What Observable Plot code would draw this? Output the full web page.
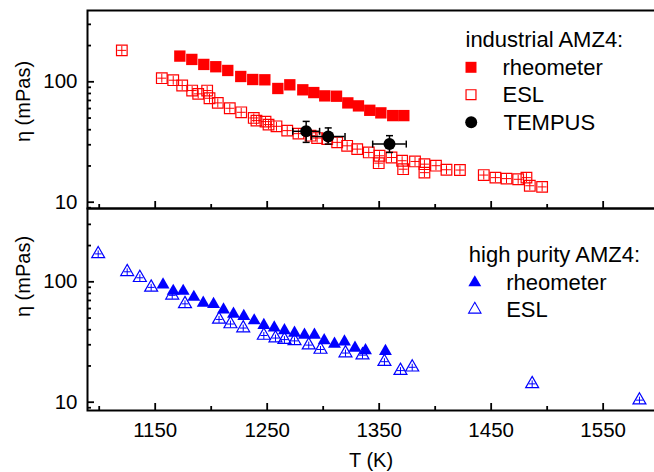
<!DOCTYPE html>
<html>
<head>
<meta charset="utf-8">
<script src="https://cdn.jsdelivr.net/npm/d3@7"></script>
<script src="https://cdn.jsdelivr.net/npm/@observablehq/plot@0.6"></script>
<style>
html, body { margin: 0; padding: 0; background: #fff; overflow: hidden; width: 654px; height: 472px; }
#chart { position: relative; width: 654px; height: 472px; overflow: hidden; }
#chart svg { position: absolute; left: 0; top: 0; }
</style>
</head>
<body>
<div id="chart"></div>
<script>
// ---------- data ----------
// industrial AMZ4, rheometer
const indRheoT   = [1172, 1182.7, 1193.4, 1204.1, 1214.8, 1226.4, 1237.1, 1247.9, 1259.5, 1270.2, 1281.8, 1291.6, 1301.4, 1311.9, 1322, 1331.5, 1341.6, 1351.5, 1362.1, 1372];
const indRheoEta = [163.5, 153.4, 139.4, 133.4, 124.2, 110.7, 104.5, 103.9, 88, 94.4, 85.8, 81.4, 76.4, 75.9, 66.8, 63.1, 58, 55.2, 52.4, 52.4];
// industrial AMZ4, ESL
const indEslT   = [1120.2, 1155.9, 1166.1, 1174.1, 1183, 1188.4, 1196.4, 1198.5, 1205.9, 1216.6, 1226.8, 1238, 1240.4, 1248.5, 1251.2, 1258.3, 1267.9, 1277.9, 1288.7, 1294.6, 1303.6, 1312.5, 1321.4, 1330.4, 1340.7, 1350.3, 1349.6, 1361, 1370.5, 1371.4, 1382, 1390.4, 1390.4, 1400.7, 1410.1, 1422.1, 1443.4, 1453.8, 1463.7, 1474.1, 1481.5, 1484.5, 1495.5];
const indEslEta = [182.4, 107.2, 103.1, 93.1, 84.6, 79.4, 84.6, 73, 66.8, 60.3, 55.8, 50.1, 47.6, 46.7, 44.1, 42.7, 39.3, 37.1, 35.7, 34.1, 33.5, 31.4, 29.4, 27.6, 25.9, 24.3, 21.1, 23.5, 22.1, 18.8, 21.8, 20.7, 17.6, 20.1, 18.6, 18.5, 16.8, 16, 15.7, 15.5, 16, 13.7, 13.4];
// industrial AMZ4, TEMPUS (with error bars)
const tempusT      = [1284.8, 1304.5, 1359.2];
const tempusEta    = [38.8, 35.2, 30.4];
const tempusTErr   = [12, 15, 15];
const tempusEtaLo  = [31.4, 30.4, 25.9];
const tempusEtaHi  = [46.9, 41.4, 35.7];
// high purity AMZ4, rheometer
const hpRheoT   = [1157, 1166.1, 1175, 1184.5, 1192.9, 1202.1, 1211, 1219.9, 1229.1, 1238.4, 1247, 1256.3, 1265.4, 1274.4, 1283.3, 1292.2, 1300.9, 1310.1, 1319, 1328.4, 1337.8, 1355.6];
const hpRheoEta = [94.4, 83.7, 83.7, 74.6, 66.8, 65.2, 58.7, 54.1, 51.8, 47.6, 43.6, 41.6, 39.4, 37.6, 36.1, 36.1, 32.5, 30.4, 31.8, 28.2, 26.9, 26.5];
// high purity AMZ4, ESL
const hpEslT   = [1099.1, 1125, 1136.3, 1146.4, 1165.2, 1176.6, 1207, 1217.2, 1228.6, 1247, 1257.4, 1265.4, 1274.4, 1287.1, 1297.6, 1319.9, 1335.1, 1354.7, 1369, 1379.5, 1486.6, 1582.4];
const hpEslEta = [170.5, 121.1, 108, 89.9, 77.2, 65.6, 48.7, 44.6, 41.3, 35.8, 34.1, 33.1, 32.3, 29.8, 27.4, 25.6, 24.6, 21.7, 18.3, 19.5, 14.2, 10.4];
// ticks
const xMajorTicks = [1150, 1250, 1350, 1450, 1550];
const xMinorTicks = [1100, 1200, 1300, 1400, 1500];
const yMajorTicks = [10, 100];
const yMinorTicksTop = [9, 20, 30, 40, 50, 60, 70, 80, 90, 200, 300];
const yMinorTicksBottom = [9, 20, 30, 40, 50, 60, 70, 80, 90, 200, 300];
// texts
const yTitle = "η (mPas)";
const xTitle = "T (K)";
const legendTop = ["industrial AMZ4:", "rheometer", "ESL", "TEMPUS"];
const legendBottom = ["high purity AMZ4:", "rheometer", "ESL"];

// ---------- tables ----------
const pairs = (T, E) => T.map((t, i) => ({T: t, eta: E[i]}));
const indRheo = pairs(indRheoT, indRheoEta);
const indEsl = pairs(indEslT, indEslEta);
const hpRheo = pairs(hpRheoT, hpRheoEta);
const hpEsl = pairs(hpEslT, hpEslEta);
const tempus = tempusT.map((t, i) => ({T: t, eta: tempusEta[i], dT: tempusTErr[i], lo: tempusEtaLo[i], hi: tempusEtaHi[i]}));
const tempusCapsX = tempus.flatMap(d => [{T: d.T - d.dT, eta: d.eta}, {T: d.T + d.dT, eta: d.eta}]);
const tempusCapsY = tempus.flatMap(d => [{T: d.T, eta: d.lo}, {T: d.T, eta: d.hi}]);

// ---------- symbols ----------
const plusSym = {draw(ctx, size) { const r = Math.sqrt(size / Math.PI); ctx.moveTo(-r, 0); ctx.lineTo(r, 0); ctx.moveTo(0, -r); ctx.lineTo(0, r); }};
const capV = {draw(ctx, size) { const r = Math.sqrt(size / Math.PI); ctx.moveTo(0, -r); ctx.lineTo(0, r); }};
const capH = {draw(ctx, size) { const r = Math.sqrt(size / Math.PI); ctx.moveTo(-r, 0); ctx.lineTo(r, 0); }};

// ---------- layout ----------
const W = 662, H = 472, ML = 87, MR = 2;
const plotW = W - ML - MR;
const xDomain = [1089.55, 1601.2];
const red = "#ff0000", blue = "#0000ff";
const font = "'Liberation Sans', Arial, Helvetica, sans-serif";
const baseStyle = {fontFamily: font, fontSize: "20px", background: "transparent", color: "black", maxWidth: "none", overflow: "visible"};
const tickStyle = {stroke: "black", strokeWidth: 1.8};

function axesMarks(plotH, yMinor, withXLabels) {
  const m = [
    Plot.tickY(yMinor, {insetRight: plotW - 4, ...tickStyle}),
    Plot.tickY(yMajorTicks, {insetRight: plotW - 7, ...tickStyle}),
    Plot.tickX(xMinorTicks, {insetTop: plotH - 4, ...tickStyle}),
    Plot.tickX(xMajorTicks, {insetTop: plotH - 7, ...tickStyle}),
    Plot.axisY(yMajorTicks, {tickSize: 0, tickPadding: 10, tickFormat: d => String(d), fontSize: 20.5, label: null})
  ];
  if (withXLabels) m.push(Plot.axisX(xMajorTicks, {tickSize: 0, tickPadding: 12, tickFormat: d => String(d), fontSize: 20.5, label: null}));
  return m;
}

const topMT = 10, topMB = 264;
const topPlot = Plot.plot({
  width: W, height: H, marginLeft: ML, marginRight: MR, marginTop: topMT, marginBottom: topMB,
  style: baseStyle,
  x: {domain: xDomain, axis: null},
  y: {type: "log", domain: [8.866, 391]},
  marks: [
    ...axesMarks(H - topMT - topMB, yMinorTicksTop, false),
    Plot.dot(indEsl, {x: "T", y: "eta", symbol: "square", r: 6, stroke: red, fill: "none", strokeWidth: 1.2}),
    Plot.dot(indEsl, {x: "T", y: "eta", symbol: plusSym, r: 4.5, stroke: red, fill: "none", strokeWidth: 1}),
    Plot.dot(indRheo, {x: "T", y: "eta", symbol: "square", r: 6.4, fill: red, stroke: "none"}),
    Plot.ruleY(tempus, {y: "eta", x1: d => d.T - d.dT, x2: d => d.T + d.dT, stroke: "black", strokeWidth: 1.5}),
    Plot.ruleX(tempus, {x: "T", y1: "lo", y2: "hi", stroke: "black", strokeWidth: 1.5}),
    Plot.dot(tempusCapsX, {x: "T", y: "eta", symbol: capV, r: 3.5, stroke: "black", fill: "none", strokeWidth: 1.5}),
    Plot.dot(tempusCapsY, {x: "T", y: "eta", symbol: capH, r: 3.5, stroke: "black", fill: "none", strokeWidth: 1.5}),
    Plot.dot(tempus, {x: "T", y: "eta", r: 6, fill: "black", stroke: "none"}),
    Plot.frame({stroke: "black", strokeWidth: 2}),
    // y title
    Plot.text([yTitle], {frameAnchor: "top-left", dx: 29.5 - ML, dy: 101 - topMT, rotate: -90, textAnchor: "middle", lineAnchor: "bottom", fontSize: 20}),
    // legend
    Plot.text([legendTop[0]], {frameAnchor: "top-left", dx: 378, dy: 36, textAnchor: "start", lineAnchor: "bottom", fontSize: 22}),
    Plot.dot([0], {frameAnchor: "top-left", dx: 383.5, dy: 56.8, symbol: "square", r: 6.2, fill: red, stroke: "none"}),
    Plot.text([legendTop[1]], {frameAnchor: "top-left", dx: 415, dy: 64, textAnchor: "start", lineAnchor: "bottom", fontSize: 22}),
    Plot.dot([0], {frameAnchor: "top-left", dx: 383.5, dy: 84.2, symbol: "square", r: 5.6, fill: "none", stroke: red, strokeWidth: 1.2}),
    Plot.text([legendTop[2]], {frameAnchor: "top-left", dx: 415, dy: 91.5, textAnchor: "start", lineAnchor: "bottom", fontSize: 22}),
    Plot.dot([0], {frameAnchor: "top-left", dx: 383.7, dy: 111.7, r: 6, fill: "black", stroke: "none"}),
    Plot.text([legendTop[3]], {frameAnchor: "top-left", dx: 416, dy: 119, textAnchor: "start", lineAnchor: "bottom", fontSize: 22})
  ]
});

const botMT = 208, botMB = 62;
const bottomPlot = Plot.plot({
  width: W, height: H, marginLeft: ML, marginRight: MR, marginTop: botMT, marginBottom: botMB,
  style: baseStyle,
  x: {domain: xDomain},
  y: {type: "log", domain: [8.533, 406.3]},
  marks: [
    ...axesMarks(H - botMT - botMB, yMinorTicksBottom, true),
    Plot.dot(hpEsl, {x: "T", y: "eta", symbol: "triangle", r: 4.8, stroke: blue, fill: "none", strokeWidth: 1.2}),
    Plot.dot(hpEsl, {x: "T", y: "eta", symbol: plusSym, r: 3.5, stroke: blue, fill: "none", strokeWidth: 1}),
    Plot.dot(hpRheo, {x: "T", y: "eta", symbol: "triangle", r: 4.8, fill: blue, stroke: "none"}),
    Plot.frame({stroke: "black", strokeWidth: 2}),
    Plot.text([yTitle], {frameAnchor: "top-left", dx: 29.5 - ML, dy: 276 - botMT, rotate: -90, textAnchor: "middle", lineAnchor: "bottom", fontSize: 20}),
    Plot.text([xTitle], {frameAnchor: "bottom", dx: -3, dy: 56, textAnchor: "middle", lineAnchor: "bottom", fontSize: 20}),
    // legend
    Plot.text([legendBottom[0]], {frameAnchor: "top-left", dx: 381.3, dy: 53.7, textAnchor: "start", lineAnchor: "bottom", fontSize: 22}),
    Plot.dot([0], {frameAnchor: "top-left", dx: 387.3, dy: 74.1, symbol: "triangle", r: 4.8, fill: blue, stroke: "none"}),
    Plot.text([legendBottom[1]], {frameAnchor: "top-left", dx: 418.7, dy: 81.3, textAnchor: "start", lineAnchor: "bottom", fontSize: 22}),
    Plot.dot([0], {frameAnchor: "top-left", dx: 387.3, dy: 101, symbol: "triangle", r: 4.6, fill: "none", stroke: blue, strokeWidth: 1.1}),
    Plot.text([legendBottom[2]], {frameAnchor: "top-left", dx: 418.7, dy: 108.7, textAnchor: "start", lineAnchor: "bottom", fontSize: 22})
  ]
});

const chart = document.getElementById("chart");
chart.appendChild(topPlot);
chart.appendChild(bottomPlot);
</script>
</body>
</html>
